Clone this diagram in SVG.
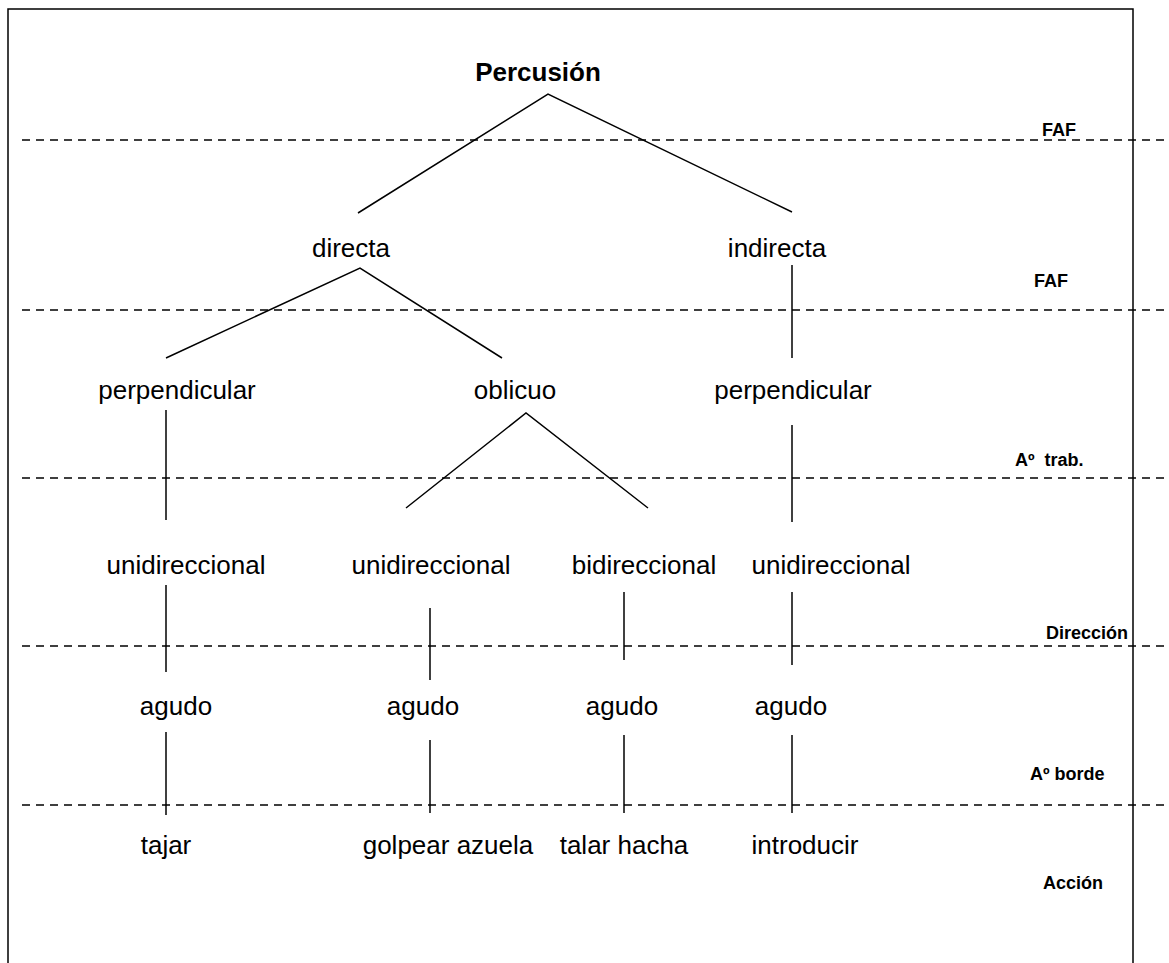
<svg xmlns="http://www.w3.org/2000/svg" width="1169" height="963" viewBox="0 0 1169 963">
  <style>
    .frame { fill: none; stroke: #000; stroke-width: 1.5; }
    .level { stroke: #000; stroke-width: 1.5; stroke-dasharray: 8 6; }
    .edge { stroke: #000; stroke-width: 1.5; fill: none; }
    .node { font-family: "Liberation Sans", Arial, sans-serif; font-size: 26px; fill: #000; text-anchor: middle; }
    .root { font-weight: bold; font-size: 26px; }
    .tier { font-family: "Liberation Sans", Arial, sans-serif; font-size: 18px; font-weight: bold; fill: #000; white-space: pre; }
  </style>
  <rect width="1169" height="963" fill="#fff"/>
  <!-- page frame (open at the bottom) -->
  <path class="frame" d="M8,963 V9 H1133 V963"/>

  <!-- level separators -->
  <g id="levels">
    <line class="level" x1="22" y1="140" x2="1169" y2="140"/>
    <line class="level" x1="22" y1="310" x2="1169" y2="310"/>
    <line class="level" x1="22" y1="478" x2="1169" y2="478"/>
    <line class="level" x1="22" y1="646" x2="1169" y2="646"/>
    <line class="level" x1="22" y1="805" x2="1169" y2="805"/>
  </g>

  <!-- level names -->
  <g id="tiers">
    <text class="tier" x="1042" y="136">FAF</text>
    <text class="tier" x="1034" y="287">FAF</text>
    <text class="tier" x="1015" y="466" xml:space="preserve">Aº  trab.</text>
    <text class="tier" x="1046" y="639">Dirección</text>
    <text class="tier" x="1030" y="780">Aº borde</text>
    <text class="tier" x="1043" y="889">Acción</text>
  </g>

  <g id="connectors">
    <path class="edge" d="M358,213 L548,94 L792,212"/>
    <path class="edge" d="M166,358 L360,268 L502,358"/>
    <line class="edge" x1="792" y1="265" x2="792" y2="358"/>
    <line class="edge" x1="166" y1="410" x2="166" y2="520"/>
    <path class="edge" d="M406,508 L526,413 L648,508"/>
    <line class="edge" x1="792" y1="425" x2="792" y2="522"/>
    <line class="edge" x1="166" y1="585" x2="166" y2="672"/>
    <line class="edge" x1="430" y1="608" x2="430" y2="680"/>
    <line class="edge" x1="624" y1="592" x2="624" y2="660"/>
    <line class="edge" x1="792" y1="592" x2="792" y2="665"/>
    <line class="edge" x1="166" y1="732" x2="166" y2="815"/>
    <line class="edge" x1="430" y1="740" x2="430" y2="813"/>
    <line class="edge" x1="624" y1="735" x2="624" y2="813"/>
    <line class="edge" x1="792" y1="735" x2="792" y2="813"/>
  </g>

  <g id="n-percusion"><text class="node root" x="538" y="81">Percusión</text></g>
  <g id="n-directa"><text class="node" x="351" y="257">directa</text></g>
  <g id="n-indirecta"><text class="node" x="777" y="257">indirecta</text></g>
  <g id="n-perp-left"><text class="node" x="177" y="399">perpendicular</text></g>
  <g id="n-oblicuo"><text class="node" x="515" y="399">oblicuo</text></g>
  <g id="n-perp-right"><text class="node" x="793" y="399">perpendicular</text></g>
  <g id="n-uni-1"><text class="node" x="186" y="574">unidireccional</text></g>
  <g id="n-uni-2"><text class="node" x="431" y="574">unidireccional</text></g>
  <g id="n-bi"><text class="node" x="644" y="574">bidireccional</text></g>
  <g id="n-uni-3"><text class="node" x="831" y="574">unidireccional</text></g>
  <g id="n-agudo-1"><text class="node" x="176" y="715">agudo</text></g>
  <g id="n-agudo-2"><text class="node" x="423" y="715">agudo</text></g>
  <g id="n-agudo-3"><text class="node" x="622" y="715">agudo</text></g>
  <g id="n-agudo-4"><text class="node" x="791" y="715">agudo</text></g>
  <g id="n-tajar"><text class="node" x="166" y="854">tajar</text></g>
  <g id="n-golpear"><text class="node" x="448" y="854">golpear azuela</text></g>
  <g id="n-talar"><text class="node" x="624" y="854">talar hacha</text></g>
  <g id="n-introducir"><text class="node" x="805" y="854">introducir</text></g>
</svg>
